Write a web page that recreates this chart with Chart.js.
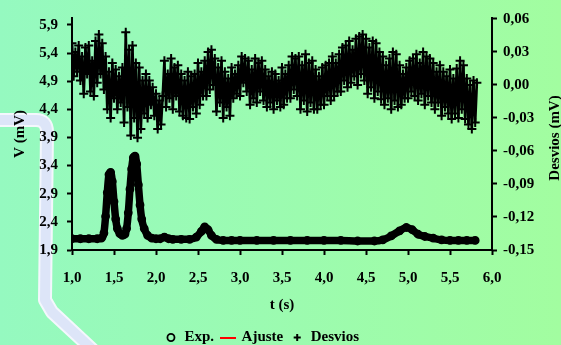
<!DOCTYPE html>
<html>
<head>
<meta charset="utf-8">
<script src="https://cdn.jsdelivr.net/npm/chart.js@4.4.1/dist/chart.umd.min.js"></script>
<style>
  html, body { margin: 0; padding: 0; background: #98fab4; }
  canvas { display: block; }
</style>
</head>
<body>
<canvas id="chart" width="561" height="345"></canvas>
<script>
// Exp. points (t in s, V in mV)
var expT = [1.00, 1.10, 1.20, 1.30, 1.35, 1.38, 1.40, 1.42, 1.44, 1.46, 1.48, 1.50, 1.52, 1.54, 1.57, 1.60,
            1.63, 1.65, 1.67, 1.69, 1.71, 1.73, 1.75, 1.77, 1.79, 1.81, 1.83, 1.86, 1.90, 1.95, 2.00, 2.05,
            2.10, 2.15, 2.20, 2.30, 2.40, 2.48, 2.54, 2.58, 2.62, 2.66, 2.72, 2.80, 2.90, 3.00, 3.20, 3.40,
            3.60, 3.80, 4.00, 4.20, 4.40, 4.60, 4.70, 4.80, 4.90, 4.98, 5.05, 5.12, 5.20, 5.30, 5.40, 5.50,
            5.60, 5.70, 5.80];
var expV = [2.10, 2.10, 2.10, 2.10, 2.11, 2.20, 2.50, 2.92, 3.24, 3.28, 3.12, 2.76, 2.45, 2.28, 2.19, 2.16,
            2.18, 2.28, 2.56, 2.98, 3.34, 3.54, 3.57, 3.43, 3.06, 2.70, 2.45, 2.28, 2.16, 2.11, 2.10, 2.10,
            2.13, 2.10, 2.09, 2.09, 2.09, 2.13, 2.23, 2.31, 2.26, 2.16, 2.09, 2.07, 2.07, 2.07, 2.07, 2.07,
            2.07, 2.07, 2.07, 2.07, 2.06, 2.06, 2.08, 2.15, 2.24, 2.30, 2.26, 2.18, 2.14, 2.11, 2.08, 2.07,
            2.07, 2.07, 2.07];
// the fit sits under the experimental points, same trace
var ajusteV = expV.slice();

// Desvios (mV), one value every 0.02 s starting at 1.00 s
var desviosT0 = 1.0;
var desviosStep = 0.02;
var desviosV = [
   0.038, 0.008, 0.030, 0.012, 0.036,   0.004, 0.026,-0.008, 0.034, 0.010,
   0.036,-0.006, 0.022,-0.010, 0.040,   0.002, 0.046, 0.010, 0.038,-0.004,
   0.026,-0.022, 0.012,-0.030, 0.020,  -0.012, 0.014,-0.022, 0.008,-0.016,
   0.016,-0.034, 0.048,-0.020, 0.032,  -0.046, 0.036,-0.030, 0.020,-0.048,
   0.016,-0.040, 0.004,-0.026, 0.010,  -0.030, 0.004,-0.018,-0.002,-0.028,
  -0.008,-0.040,-0.014,-0.036,-0.010,   0.022,-0.020, 0.010,-0.012, 0.024,
  -0.022, 0.016,-0.010, 0.018,-0.024,   0.010,-0.028, 0.004,-0.030, 0.012,
  -0.031, 0.008,-0.020, 0.010,-0.026,   0.020,-0.018, 0.012,-0.010, 0.022,
  -0.010, 0.030,-0.004, 0.032, 0.000,   0.024,-0.024, 0.016,-0.016, 0.022,
  -0.030, 0.012,-0.020, 0.006,-0.028,   0.016,-0.012, 0.010,-0.008, 0.018,
  -0.010, 0.026, 0.002, 0.024,-0.006,   0.022,-0.018, 0.014,-0.012, 0.024,
  -0.016, 0.020,-0.006, 0.022,-0.014,   0.014,-0.020, 0.008,-0.016, 0.012,
  -0.022, 0.010,-0.014, 0.004,-0.020,   0.016,-0.018, 0.010,-0.012, 0.018,
  -0.012, 0.026,-0.004, 0.024,-0.010,   0.026,-0.022, 0.018,-0.014, 0.028,
  -0.024, 0.020,-0.016, 0.022,-0.022,   0.014,-0.022, 0.008,-0.018, 0.016,
  -0.018, 0.018,-0.010, 0.020,-0.014,   0.026,-0.010, 0.020,-0.006, 0.028,
  -0.006, 0.034, 0.004, 0.036,-0.002,   0.040, 0.002, 0.032, 0.008, 0.042,
   0.000, 0.044, 0.010, 0.046, 0.004,   0.042,-0.008, 0.034,-0.002, 0.040,
  -0.012, 0.038,-0.006, 0.030,-0.013,   0.026,-0.018, 0.018,-0.012, 0.024,
  -0.022, 0.030,-0.014, 0.028,-0.020,   0.018,-0.018, 0.010,-0.012, 0.016,
  -0.012, 0.022,-0.006, 0.024,-0.010,   0.028,-0.014, 0.020,-0.008, 0.030,
  -0.018, 0.026,-0.010, 0.024,-0.016,   0.020,-0.022, 0.012,-0.016, 0.018,
  -0.028, 0.012,-0.020, 0.008,-0.026,   0.014,-0.031, 0.006,-0.026, 0.015,
  -0.030, 0.022,-0.022, 0.018,-0.031,   0.006,-0.036, 0.000,-0.040, 0.004,
  -0.034, 0.002
];

var vTicks = [1.9, 2.4, 2.9, 3.4, 3.9, 4.4, 4.9, 5.4, 5.9];
var desvTicks = [-0.15, -0.12, -0.09, -0.06, -0.03, 0.00, 0.03, 0.06];

var serif = "'Liberation Serif', 'Times New Roman', serif";
Chart.defaults.font.family = serif;
Chart.defaults.font.size = 15;
Chart.defaults.font.weight = 'bold';
Chart.defaults.color = '#000';

function comma(v, d) {
  return Number(v).toFixed(d).replace('.', ',');
}

var expData = expT.map(function(t, i) { return {x: t, y: expV[i]}; });
var ajusteData = expT.map(function(t, i) { return {x: t, y: ajusteV[i]}; });
var desviosData = desviosV.map(function(v, i) { return {x: desviosT0 + i * desviosStep, y: v}; });

// little red dash for the "Ajuste" legend entry
var redDash = document.createElement('canvas');
redDash.width = 16;
redDash.height = 2;
var rdc = redDash.getContext('2d');
rdc.fillStyle = '#ff0000';
rdc.fillRect(0, 0, 16, 2);

var backdrop = {
  id: 'backdrop',
  afterLayout: function(chart) {
    // legend row sits a bit left of the page centre
    chart.legend.right = chart.width - 37;
  },
  beforeDraw: function(chart) {
    var c = chart.ctx;
    c.save();
    var g = c.createLinearGradient(0, 0, chart.width, 0);
    g.addColorStop(0, '#95f9c0');
    g.addColorStop(1, '#a2fda0');
    c.fillStyle = g;
    c.fillRect(0, 0, chart.width, chart.height);
    // pale ribbon on the left edge
    c.beginPath();
    c.moveTo(-5, 120);
    c.lineTo(36, 120);
    c.quadraticCurveTo(47, 120, 47, 132);
    c.lineTo(45, 300);
    c.lineTo(52, 312);
    c.lineTo(95, 352);
    c.lineJoin = 'round';
    c.strokeStyle = '#f4f7fd';
    c.lineWidth = 14;
    c.stroke();
    c.strokeStyle = '#dde5f8';
    c.lineWidth = 10;
    c.stroke();
    c.restore();
  },
  afterDraw: function(chart) {
    var c = chart.ctx;
    var a = chart.chartArea;
    c.save();
    c.translate(555, (a.top + a.bottom) / 2 + 4);
    c.rotate(-Math.PI / 2);
    c.font = 'bold 15px ' + serif;
    c.fillStyle = '#000';
    c.textAlign = 'center';
    c.textBaseline = 'middle';
    c.fillText('Desvios (mV)', 0, 0);
    c.restore();
  }
};

new Chart(document.getElementById('chart'), {
  type: 'scatter',
  data: {
    datasets: [{
      label: 'Exp.',
      data: expData,
      yAxisID: 'y',
      showLine: true,
      borderColor: '#000',
      borderWidth: 7.5,
      borderCapStyle: 'round',
      borderJoinStyle: 'round',
      cubicInterpolationMode: 'monotone',
      pointStyle: 'circle',
      pointRadius: 3.5,
      pointBorderWidth: 1.8,
      pointBorderColor: '#000',
      pointBackgroundColor: 'rgba(0,0,0,0)'
    }, {
      label: 'Ajuste',
      data: ajusteData,
      yAxisID: 'y',
      showLine: true,
      borderColor: '#ff0000',
      borderWidth: 1.5,
      cubicInterpolationMode: 'monotone',
      pointStyle: redDash,
      pointRadius: 0
    }, {
      label: 'Desvios',
      data: desviosData,
      yAxisID: 'y2',
      showLine: true,
      borderColor: '#000',
      borderWidth: 2.6,
      pointStyle: 'cross',
      pointRadius: 4.5,
      pointBorderWidth: 2,
      pointBorderColor: '#000',
      pointBackgroundColor: '#000'
    }]
  },
  options: {
    responsive: false,
    animation: false,
    layout: { padding: { top: 14, left: 0, right: 0, bottom: -10 } },
    plugins: {
      tooltip: { enabled: false },
      legend: {
        position: 'bottom',
        labels: {
          usePointStyle: true,
          boxWidth: 12,
          boxHeight: 5,
          padding: 8,
          color: '#000',
          font: { size: 15, weight: 'bold', family: serif }
        }
      }
    },
    scales: {
      x: {
        type: 'linear',
        position: 'bottom',
        min: 1,
        max: 6,
        afterFit: function(s) { s.height = 72; },
        ticks: {
          stepSize: 0.5,
          padding: 14,
          callback: function(v) { return comma(v, 1); }
        },
        grid: { drawOnChartArea: false, drawTicks: true, tickLength: 5, tickColor: '#000', tickWidth: 2 },
        border: { display: true, color: '#000', width: 2 },
        title: { display: true, text: 't (s)', padding: { top: 0, bottom: 8 } }
      },
      y: {
        type: 'linear',
        position: 'left',
        min: 1.9,
        max: 6.023,
        afterFit: function(s) { s.width = 72; },
        afterBuildTicks: function(s) { s.ticks = vTicks.map(function(v) { return {value: v}; }); },
        ticks: {
          autoSkip: false,
          padding: 9,
          callback: function(v) { return comma(v, 1); }
        },
        grid: { drawOnChartArea: false, drawTicks: true, tickLength: 5, tickColor: '#000', tickWidth: 2 },
        border: { display: true, color: '#000', width: 2 },
        title: { display: true, text: 'V (mV)', padding: { top: 11, bottom: 0 } }
      },
      y2: {
        type: 'linear',
        position: 'right',
        min: -0.15,
        max: 0.0609,
        afterFit: function(s) { s.width = 69; },
        afterBuildTicks: function(s) { s.ticks = desvTicks.map(function(v) { return {value: v}; }); },
        ticks: {
          autoSkip: false,
          padding: 6,
          callback: function(v) { return comma(v, 2); }
        },
        grid: { drawOnChartArea: false, drawTicks: true, tickLength: 5, tickColor: '#000', tickWidth: 2 },
        border: { display: true, color: '#000', width: 2 }
      }
    }
  },
  plugins: [backdrop]
});
</script>
</body>
</html>
